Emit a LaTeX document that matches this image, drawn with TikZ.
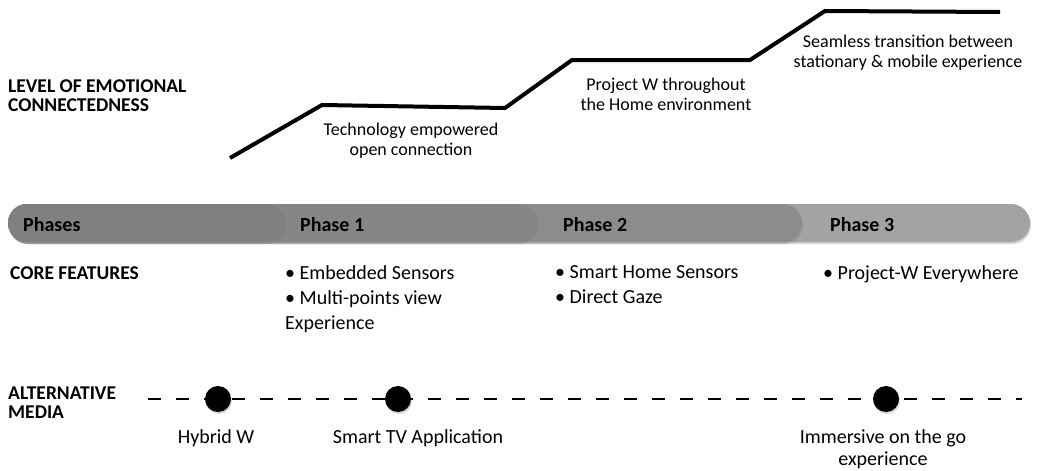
\documentclass[tikz,border=0pt]{standalone}
\usepackage{fontspec}
\setmainfont{Carlito}
\usetikzlibrary{shadows}
\begin{document}
\begin{tikzpicture}[x=1pt,y=-1pt,
  lbl/.style={font=\fontsize{19.5}{19}\selectfont\bfseries, align=left, anchor=west, inner sep=0pt},
  txt/.style={font=\fontsize{18}{20}\selectfont, align=center, inner sep=0pt},
  med/.style={font=\fontsize{20}{22}\selectfont, align=center, inner sep=0pt},
  bul/.style={font=\fontsize{20}{25}\selectfont, align=left, anchor=north west, inner sep=0pt},
  seg/.style={rounded corners=19pt, drop shadow={shadow xshift=1pt, shadow yshift=-2pt, opacity=0.35}},
  ph/.style={font=\fontsize{20}{22}\selectfont\bfseries, anchor=west, inner sep=0pt},
  dot/.style={circle, fill=black, minimum size=26pt, inner sep=0pt, drop shadow={shadow xshift=1pt, shadow yshift=-2pt, opacity=0.3}}]
\useasboundingbox (0,0) rectangle (1037,471);
% emotional line
\coordinate (e1) at (230,158);
\coordinate (e2) at (322,105);
\coordinate (e3) at (505,108);
\coordinate (e4) at (572,60);
\coordinate (e5) at (750,60);
\coordinate (e6) at (825,11);
\coordinate (e7) at (1000,12);
\draw[line width=4pt, line join=miter] (e1) -- (e2) -- (e3) -- (e4) -- (e5) -- (e6) -- (e7);
\node[lbl] (lvl) at (8,96) {LEVEL OF EMOTIONAL\\CONNECTEDNESS};
\node[txt] (t1) at (411,141) {Technology empowered\\open connection};
\node[txt] (t2) at (666,94) {Project W throughout\\the Home environment};
\node[txt] (t3) at (908,53) {Seamless transition between\\stationary \& mobile experience};
% phases bar
\fill[seg, fill=gray!72] (8,204) rectangle (1030,242);
\fill[seg, fill=gray!90] (8,204) rectangle (802,242);
\fill[seg, fill=gray!95] (8,204) rectangle (538,242);
\fill[seg, fill=gray!100] (8,204) rectangle (285,242);
\node[ph] (p0) at (23,225) {Phases};
\node[ph] (p1) at (300,225) {Phase 1};
\node[ph] (p2) at (563,225) {Phase 2};
\node[ph] (p3) at (830,225) {Phase 3};
% core features
\node[lbl] (cf) at (10,273) {CORE FEATURES};
\node[bul] (f1) at (285,265) {• Embedded Sensors\\• Multi-points view\\Experience};
\node[bul] (f2) at (555,265) {• Smart Home Sensors\\• Direct Gaze};
\node[bul] (f3) at (823,265) {• Project-W Everywhere};
% alternative media
\node[lbl] (am) at (8,403) {ALTERNATIVE\\MEDIA};
\coordinate (ls) at (148,399);
\coordinate (le) at (1022,399);
\draw[line width=2.3pt, dash pattern=on 13pt off 15pt] (ls) -- (le);
\node[dot] (d1) at (218,399) {};
\node[dot] (d2) at (398,399) {};
\node[dot] (d3) at (886,399) {};
\node[med] (m1) at (216,438) {Hybrid W};
\node[med] (m2) at (418,438) {Smart TV Application};
\node[med] (m3) at (883,449) {Immersive on the go\\experience};
\end{tikzpicture}
\end{document}
